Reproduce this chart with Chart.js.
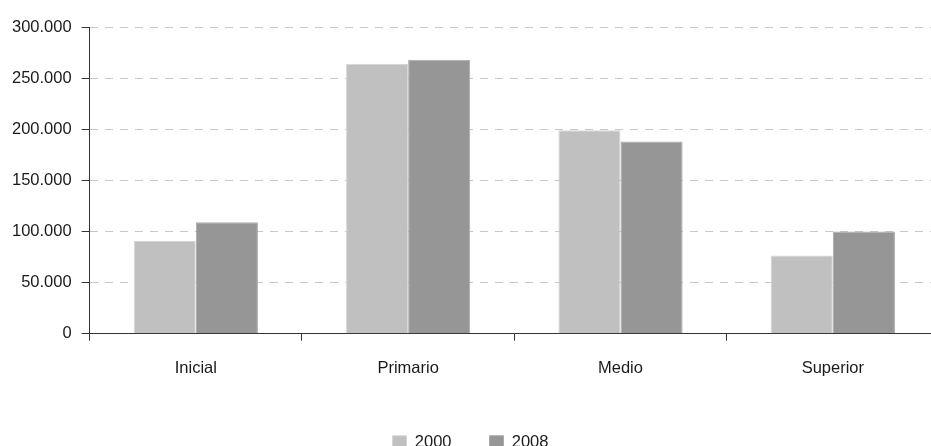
<!DOCTYPE html>
<html>
<head>
<meta charset="utf-8">
<script src="https://cdn.jsdelivr.net/npm/chart.js@4/dist/chart.umd.min.js"></script>
<style>
html,body{margin:0;padding:0;background:#fff;overflow:hidden}
#wrap{width:945px;height:461px}
</style>
</head>
<body>
<div id="wrap"><canvas id="grafico" width="945" height="461"></canvas></div>
<script>
// niveles educativos y matricula por año
const niveles = ["Inicial", "Primario", "Medio", "Superior"]
const anios = ["2000", "2008"]
const valores2000 = [91000, 264000, 199000, 76500]
const valores2008 = [109000, 268000, 188000, 100000]
const marcasY = [0, 50000, 100000, 150000, 200000, 250000, 300000]

const fuente = "'Liberation Sans', Arial, sans-serif"

function formatoMiles(v){
  return v.toString().replace(/\B(?=(\d{3})+(?!\d))/g, ".")
}

new Chart(document.getElementById("grafico"),{
  type:"bar",
  data:{
    labels:niveles,
    datasets:[{
      label:anios[0],
      data:valores2000,
      backgroundColor:"#c0c0c0",
      borderColor:"#d6d6d6",
      borderWidth:1
    },{
      label:anios[1],
      data:valores2008,
      backgroundColor:"#969696",
      borderColor:"#a9a9a9",
      borderWidth:1
    }]
  },
  options:{
    responsive:false,
    animation:false,
    layout:{padding:{left:2,right:6,top:27,bottom:0}},
    datasets:{bar:{barPercentage:1,categoryPercentage:0.585}},
    plugins:{
      tooltip:{enabled:false},
      legend:{
        position:"bottom",
        labels:{
          boxWidth:14,
          boxHeight:14,
          padding:38,
          color:"#1a1a1a",
          font:{family:fuente,size:16.5}
        }
      }
    },
    scales:{
      x:{
        grid:{offset:true,drawOnChartArea:false,drawTicks:true,tickLength:7,tickColor:"#333",tickWidth:1},
        border:{color:"#333",width:1},
        ticks:{color:"#1a1a1a",padding:18,font:{family:fuente,size:16.5}}
      },
      y:{
        min:0,
        max:300000,
        afterBuildTicks:function(eje){ eje.ticks = marcasY.map(v=>({value:v})) },
        grid:{color:"#c8c8c8",lineWidth:1,tickLength:8,tickColor:"#333",tickBorderDash:[]},
        border:{color:"#333",width:1,dash:[8,7]},
        ticks:{color:"#1a1a1a",padding:10,font:{family:fuente,size:16.5},callback:v=>formatoMiles(v)}
      }
    }
  }
})
</script>
</body>
</html>
